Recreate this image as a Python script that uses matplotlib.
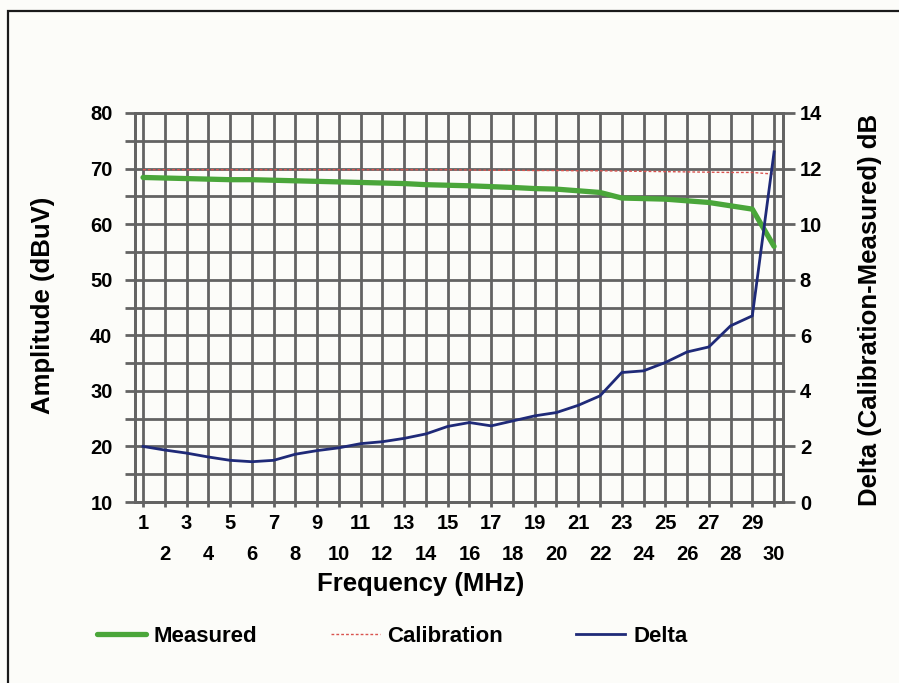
import matplotlib
matplotlib.use("Agg")
import matplotlib.pyplot as plt
from matplotlib.patches import Rectangle

plt.rcParams['font.family'] = ['Liberation Sans', 'DejaVu Sans']
plt.rcParams['font.weight'] = 'bold'

# frequency points (MHz)
freq = list(range(1, 31))
measured = [68.4, 68.3, 68.2, 68.1, 68.0, 68.0, 67.9, 67.8, 67.7, 67.6,
            67.5, 67.4, 67.3, 67.1, 67.0, 66.9, 66.75, 66.6, 66.4, 66.3,
            66.0, 65.7, 64.7, 64.6, 64.5, 64.2, 63.9, 63.3, 62.7, 56.0]
calibration = [69.8, 69.8, 69.8, 69.8, 69.8, 69.8, 69.8, 69.8, 69.8, 69.8,
               69.8, 69.8, 69.8, 69.8, 69.8, 69.75, 69.7, 69.7, 69.65, 69.65,
               69.6, 69.6, 69.55, 69.5, 69.45, 69.4, 69.35, 69.3, 69.3, 69.0]
delta = [2.0, 1.87, 1.76, 1.62, 1.5, 1.45, 1.5, 1.72, 1.85, 1.95,
         2.1, 2.17, 2.29, 2.45, 2.72, 2.86, 2.74, 2.92, 3.1, 3.22,
         3.48, 3.82, 4.66, 4.72, 5.02, 5.4, 5.58, 6.34, 6.7, 12.6]

odd = [f for f in freq if f % 2 == 1]
even = [f for f in freq if f % 2 == 0]

grid = '#636363'
bg = '#fcfcf9'

fig = plt.figure(figsize=(8.99, 6.83), dpi=100, facecolor=bg)
ax = fig.add_axes([135/899, 1 - 502/683, (783 - 135)/899, (502 - 113)/683])
ax.set_facecolor(bg)

ax.set_xlim(0.63, 30.41)
ax.set_ylim(10, 80)
ax.set_yticks(range(10, 81, 10))
ax.set_yticks(range(15, 80, 10), minor=True)
ax.set_xticks(odd)
ax.set_xticklabels([str(f) for f in odd])
ax.set_xticks(even, minor=True)
ax.set_xticklabels([str(f) for f in even], minor=True)

ax.set_axisbelow(True)
ax.grid(True, which='both', color=grid, lw=2.0)
ax.tick_params(axis='y', which='both', direction='out', length=7.2, width=2.0,
               color=grid, pad=9, labelsize=14.5)
ax.tick_params(axis='x', which='both', direction='out', length=3.6, width=2.0,
               color=grid, labelsize=14.5)
ax.tick_params(axis='x', which='major', pad=5)
ax.tick_params(axis='x', which='minor', pad=27)
for s in ax.spines.values():
    s.set_color(grid)
    s.set_linewidth(2.0)

l1, = ax.plot(freq, measured, color='#4aa63a', lw=3.8, solid_capstyle='round',
              label='Measured', zorder=3)
l2, = ax.plot(freq, calibration, color='#d9534f', lw=1.0, ls=(0, (2, 1.5)),
              label='Calibration', zorder=3)

ax2 = ax.twinx()
ax2.set_ylim(0, 14)
ax2.set_yticks(range(0, 15, 2))
ax2.tick_params(axis='y', direction='out', length=8.6, width=2.0, color=grid,
                pad=3.5, labelsize=14.5)
for s in ax2.spines.values():
    s.set_color(grid)
    s.set_linewidth(2.0)
l3, = ax2.plot(freq, delta, color='#1f2a78', lw=2.0, label='Delta', zorder=3)

fig.text(43/899, 1 - 305/683, 'Amplitude (dBuV)', rotation=90,
         ha='center', va='center', fontsize=18.5)
fig.text(870/899, 1 - 310/683, 'Delta (Calibration-Measured) dB', rotation=90,
         ha='center', va='center', fontsize=18.5)
fig.text(421/899, 1 - 584/683, 'Frequency (MHz)', ha='center', va='center',
         fontsize=18.5)

fig.legend([l1, l2, l3], ['Measured', 'Calibration', 'Delta'],
           loc='center left', bbox_to_anchor=(97/899, 1 - 636/683), ncol=3,
           frameon=False, fontsize=16, handlelength=2.2, handletextpad=0.35,
           columnspacing=3.3, borderaxespad=0, borderpad=0)

# page frame around the chart
fig.add_artist(Rectangle((8/899, -0.1), 1.2, 1 - 11/683 + 0.1,
                         transform=fig.transFigure, fill=False,
                         ec='#1a1a1a', lw=1.6, clip_on=False))

fig.savefig('out.png', dpi=100, facecolor=fig.get_facecolor())
